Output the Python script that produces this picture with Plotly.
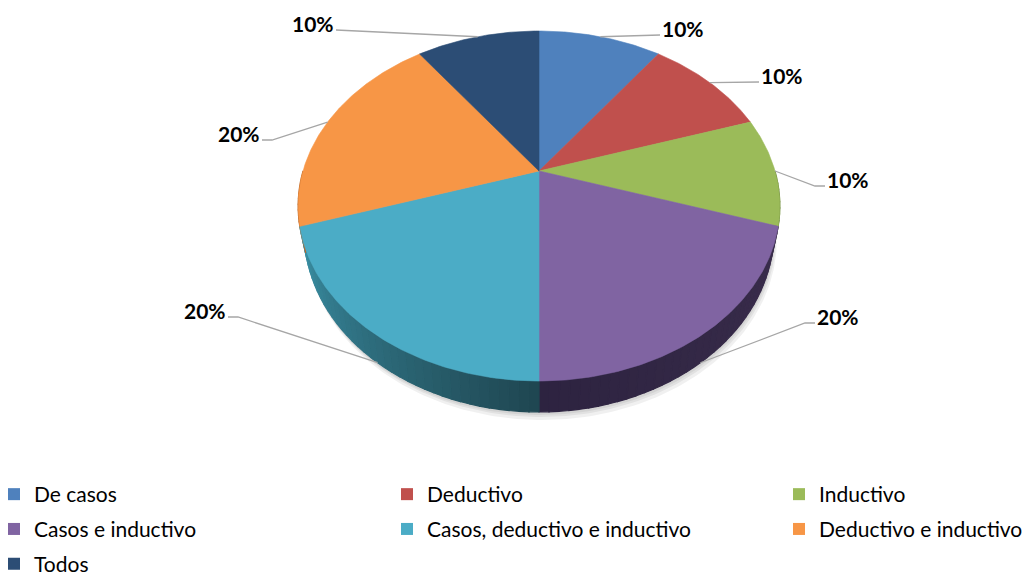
import numpy as np
import plotly.graph_objects as go

# ---------------- data ----------------
categories = ["De casos", "Deductivo", "Inductivo", "Casos e inductivo",
              "Casos, deductivo e inductivo", "Deductivo e inductivo", "Todos"]
values = [10, 10, 10, 20, 20, 20, 10]

# ---------------- style ----------------
top_colors = ["#4F81BD", "#C0504D", "#9BBB59", "#8064A2", "#4BACC6", "#F79646", "#2C4D75"]
side_light = ["#3b6190", "#8f3b39", "#6f8a3e", "#3b2e4d", "#3c93a8", "#b8692c", "#1f3857"]
side_dark = ["#2c4a6e", "#6e2d2b", "#56692f", "#2d2340", "#1f4651", "#8a4e20", "#172a42"]
legend_ids = ["legend", "legend2", "legend3", "legend", "legend2", "legend3", "legend"]
# label text centres (pixel layout positions)
label_pos = [(683, 28), (782, 75), (848, 179), (838, 316), (205, 310), (239, 133), (313, 23)]

W, H = 1028, 573
CX, CY = 539, 171
F, CF, D, TH, KB = 1180.0, 840.0, 5.0, 124.0, 0.975
SIDE0, SIDE1 = 90.0, 270.0


def proj(theta_deg, bottom=False):
    t = np.radians(np.asarray(theta_deg, dtype=float))
    u, v = np.sin(t), np.cos(t)
    den = D + v
    x = CX + u * F / den
    y = CY - v * CF / den
    if bottom:
        x = CX + (x - CX) * KB
        y = y + TH / den
    return x, y


def mix(c1, c2, f):
    a = [int(c1[i:i + 2], 16) for i in (1, 3, 5)]
    b = [int(c2[i:i + 2], 16) for i in (1, 3, 5)]
    return "#" + "".join(f"{int(round(a[k] + (b[k] - a[k]) * f)):02x}" for k in range(3))


total = float(sum(values))
bounds = np.concatenate([[0], np.cumsum(values)]) / total * 360.0

fig = go.Figure()

# soft shadow under the pie
tt = np.linspace(0, 360, 361)
for dx, dy in [(3, 8), (2, 5), (1, 3)]:
    xs, ys = proj(tt, bottom=True)
    fig.add_trace(go.Scatter(
        x=xs + dx, y=ys + dy, mode="lines", fill="toself",
        fillcolor="rgba(0,0,0,0.06)", line=dict(width=0),
        hoverinfo="skip", showlegend=False))

# side walls (front half; the top faces hide what is behind)
for i in range(len(values)):
    a0, a1 = bounds[i], bounds[i + 1]
    s0, s1 = max(a0, SIDE0), min(a1, SIDE1)
    if s1 <= s0:
        continue
    n = max(1, int(np.ceil((s1 - s0) / 2.0)))
    edges = np.linspace(s0, s1, n + 1)
    for k in range(n):
        t = np.linspace(edges[k], edges[k + 1], 6)
        xt, yt = proj(t)
        xb, yb = proj(t[::-1], bottom=True)
        mid = 0.5 * (edges[k] + edges[k + 1])
        f = 1 - abs(mid - 180.0) / 75.0
        col = mix(side_light[i], side_dark[i], min(max(f, 0), 1))
        fig.add_trace(go.Scatter(
            x=np.concatenate([xt, xb, xt[:1]]), y=np.concatenate([yt, yb, yt[:1]]),
            mode="lines", fill="toself", fillcolor=col,
            line=dict(color=col, width=1.2), hoverinfo="skip", showlegend=False))

# top faces
for i in range(len(values)):
    a0, a1 = bounds[i], bounds[i + 1]
    t = np.linspace(a0, a1, max(3, int((a1 - a0) * 2)))
    xa, ya = proj(t)
    fig.add_trace(go.Scatter(
        x=np.concatenate([[CX], xa, [CX]]), y=np.concatenate([[CY], ya, [CY]]),
        mode="lines", fill="toself", fillcolor=top_colors[i],
        line=dict(color=top_colors[i], width=0.6),
        name=categories[i], legendgroup=categories[i], showlegend=False,
        hovertemplate=f"{categories[i]}: {values[i] / total * 100:.0f}%<extra></extra>"))

# leader lines and labels
for i in range(len(values)):
    mid = 0.5 * (bounds[i] + bounds[i + 1])
    front = 101.5 < mid < 258.5
    ax, ay = proj(mid, bottom=front)
    lx, ly = label_pos[i]
    if ax >= CX:
        cx_ = lx - 23
        ex = cx_ - 10
    else:
        cx_ = lx + 23
        ex = cx_ + 10
    cy_ = ly + 7
    fig.add_trace(go.Scatter(
        x=[float(ax), ex, cx_], y=[float(ay), cy_, cy_], mode="lines",
        line=dict(color="#A6A6A6", width=1.3), hoverinfo="skip", showlegend=False))
    fig.add_annotation(x=lx, y=ly, text=f"<b>{values[i] / total * 100:.0f}%</b>",
                       showarrow=False, xanchor="center", yanchor="middle",
                       font=dict(family="Lato", size=21, color="#000000"))

# legend entries
for i in range(len(values)):
    fig.add_trace(go.Scatter(
        x=[None], y=[None], mode="markers",
        marker=dict(symbol="square", size=12, color=top_colors[i]),
        name=categories[i], legendgroup=categories[i], legend=legend_ids[i],
        showlegend=True, hoverinfo="skip"))

leg_common = dict(y=1 - 474 / H, yanchor="top", xanchor="left", orientation="v",
                  font=dict(family="Lato", size=21, color="#000000"),
                  bgcolor="rgba(0,0,0,0)", tracegroupgap=4.5, itemclick=False,
                  itemdoubleclick=False)

fig.update_layout(
    width=W, height=H,
    margin=dict(l=0, r=0, t=0, b=0, autoexpand=False),
    paper_bgcolor="white", plot_bgcolor="white",
    xaxis=dict(range=[0, W], visible=False, fixedrange=True),
    yaxis=dict(range=[H, 0], visible=False, fixedrange=True),
    legend=dict(x=-6 / W, **leg_common),
    legend2=dict(x=387 / W, **leg_common),
    legend3=dict(x=779 / W, **leg_common),
    dragmode=False,
)

fig.write_html("out.html", config={"displayModeBar": False},
               post_script="document.body.style.margin='0';document.body.style.overflow='hidden';")
